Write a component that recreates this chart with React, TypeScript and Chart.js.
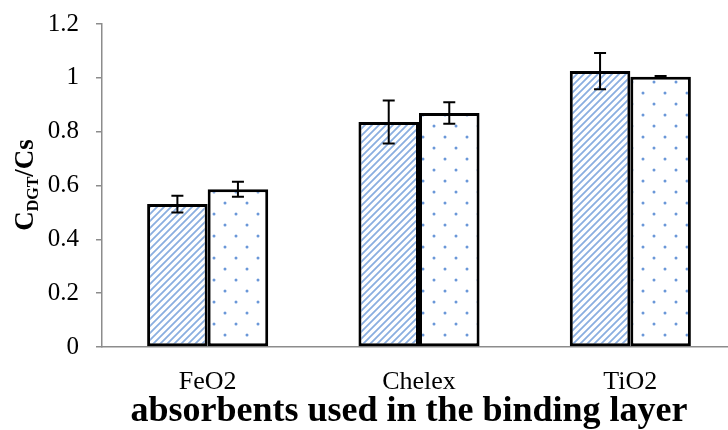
import React, { useEffect, useRef } from "react";
import { Chart, registerables } from "chart.js";

Chart.register(...registerables);

const categories = ["FeO2", "Chelex", "TiO2"];
const seriesA = [0.531, 0.836, 1.025];
const errorsA = [0.031, 0.08, 0.067];
const seriesB = [0.586, 0.869, 1.004];
const errorsB = [0.028, 0.04, 0.003];
const yTicks = [0, 0.2, 0.4, 0.6, 0.8, 1, 1.2];
const xTitle = "absorbents used in the binding layer";

const SERIF = "'Liberation Serif', 'Times New Roman', serif";

function makeHatch(ctx: CanvasRenderingContext2D): CanvasPattern | string {
  const c = document.createElement("canvas");
  const s = 7;
  c.width = s;
  c.height = s;
  const g = c.getContext("2d");
  if (!g) return "#8fb0e0";
  g.fillStyle = "#ffffff";
  g.fillRect(0, 0, s, s);
  g.strokeStyle = "#8aaee0";
  g.lineWidth = 1.8;
  g.beginPath();
  g.moveTo(-1, s + 1);
  g.lineTo(s + 1, -1);
  g.moveTo(-1, 1);
  g.lineTo(1, -1);
  g.moveTo(s - 1, s + 1);
  g.lineTo(s + 1, s - 1);
  g.stroke();
  return ctx.createPattern(c, "repeat") || "#8fb0e0";
}

function makeDots(ctx: CanvasRenderingContext2D): CanvasPattern | string {
  const c = document.createElement("canvas");
  const s = 22;
  c.width = s;
  c.height = s;
  const g = c.getContext("2d");
  if (!g) return "#ffffff";
  g.fillStyle = "#ffffff";
  g.fillRect(0, 0, s, s);
  g.fillStyle = "#6a97d8";
  const pts = [
    [5, 5],
    [16, 16],
  ];
  for (const [x, y] of pts) {
    g.beginPath();
    g.arc(x, y, 1.5, 0, Math.PI * 2);
    g.fill();
  }
  return ctx.createPattern(c, "repeat") || "#ffffff";
}

const errorBarPlugin = {
  id: "errorBars",
  afterDatasetsDraw(chart: any) {
    const ctx = chart.ctx;
    const yScale = chart.scales.y;
    const errs = [errorsA, errorsB];
    const vals = [seriesA, seriesB];
    ctx.save();
    ctx.strokeStyle = "#000";
    ctx.lineWidth = 2;
    for (let d = 0; d < 2; d++) {
      const meta = chart.getDatasetMeta(d);
      meta.data.forEach((bar: any, i: number) => {
        const x = bar.x;
        const yTop = yScale.getPixelForValue(vals[d][i] + errs[d][i]);
        const yBot = yScale.getPixelForValue(vals[d][i] - errs[d][i]);
        const cap = 6;
        ctx.beginPath();
        ctx.moveTo(x, yTop);
        ctx.lineTo(x, yBot);
        ctx.moveTo(x - cap, yTop);
        ctx.lineTo(x + cap, yTop);
        ctx.moveTo(x - cap, yBot);
        ctx.lineTo(x + cap, yBot);
        ctx.stroke();
      });
    }
    ctx.restore();
  },
};

const titlesPlugin = {
  id: "titles",
  afterDraw(chart: any) {
    const ctx = chart.ctx;
    ctx.save();
    const big = `bold 27px ${SERIF}`;
    const small = `bold 16px ${SERIF}`;
    ctx.font = big;
    const wC = ctx.measureText("C").width;
    const wRest = ctx.measureText("/Cs").width;
    ctx.font = small;
    const wSub = ctx.measureText("DGT").width;
    const total = wC + wSub + wRest;
    const cy = 185;
    const bx = 33;
    ctx.translate(bx, cy);
    ctx.rotate(-Math.PI / 2);
    ctx.fillStyle = "#000";
    ctx.textBaseline = "alphabetic";
    ctx.textAlign = "left";
    let x = -total / 2;
    ctx.font = big;
    ctx.fillText("C", x, 0);
    x += wC;
    ctx.font = small;
    ctx.fillText("DGT", x, 5);
    x += wSub;
    ctx.font = big;
    ctx.fillText("/Cs", x, 0);
    ctx.restore();

    ctx.save();
    ctx.fillStyle = "#000";
    ctx.font = `bold 36px ${SERIF}`;
    ctx.textAlign = "center";
    ctx.textBaseline = "middle";
    ctx.fillText(xTitle, 409, 412);
    ctx.restore();
  },
};

export default function App() {
  const ref = useRef<HTMLCanvasElement | null>(null);
  useEffect(() => {
    const canvas = ref.current;
    if (!canvas) return;
    const ctx = canvas.getContext("2d");
    if (!ctx) return;
    const chart = new Chart(canvas, {
      type: "bar",
      data: {
        labels: categories,
        datasets: [
          {
            label: "A",
            data: seriesA,
            backgroundColor: makeHatch(ctx) as any,
            borderColor: "#000",
            borderWidth: 3,
            borderSkipped: false,
            categoryPercentage: 0.573,
            barPercentage: 1,
          },
          {
            label: "B",
            data: seriesB,
            backgroundColor: makeDots(ctx) as any,
            borderColor: "#000",
            borderWidth: 3,
            borderSkipped: false,
            categoryPercentage: 0.573,
            barPercentage: 1,
          },
        ],
      },
      options: {
        animation: false,
        responsive: false,
        devicePixelRatio: 1,
        layout: { padding: { top: 24, right: 4, left: 0, bottom: 0 } },
        plugins: {
          legend: { display: false },
          tooltip: { enabled: false },
        },
        scales: {
          x: {
            grid: { display: true, drawOnChartArea: false, drawTicks: false },
            border: { display: true, color: "#8c8c8c", width: 1.5 },
            ticks: {
              color: "#000",
              font: { family: SERIF, size: 26 },
              padding: 20,
            },
            afterFit(scale: any) {
              scale.height = 83;
              scale.paddingLeft = 0;
              scale.paddingRight = 0;
            },
          },
          y: {
            min: 0,
            max: 1.2,
            afterBuildTicks(scale: any) {
              scale.ticks = yTicks.map((v) => ({ value: v }));
            },
            grid: {
              display: true,
              drawOnChartArea: false,
              drawTicks: true,
              tickLength: 6,
              color: "#8c8c8c",
              lineWidth: 1.5,
            },
            border: { display: true, color: "#8c8c8c", width: 1.5 },
            ticks: {
              color: "#000",
              font: { family: SERIF, size: 25 },
              padding: 17,
              callback: (v: any) => String(Math.round(Number(v) * 10) / 10),
            },
            afterFit(scale: any) {
              scale.width = 102;
              scale.paddingTop = 0;
              scale.paddingBottom = 0;
            },
          },
        },
      },
      plugins: [errorBarPlugin, titlesPlugin],
    });
    return () => chart.destroy();
  }, []);
  return (
    <div
      style={{
        position: "fixed",
        left: 0,
        top: 0,
        width: 728,
        height: 430,
        overflow: "hidden",
        background: "#fff",
      }}
    >
      <canvas ref={ref} width={740} height={430} style={{ display: "block" }} />
    </div>
  );
}
